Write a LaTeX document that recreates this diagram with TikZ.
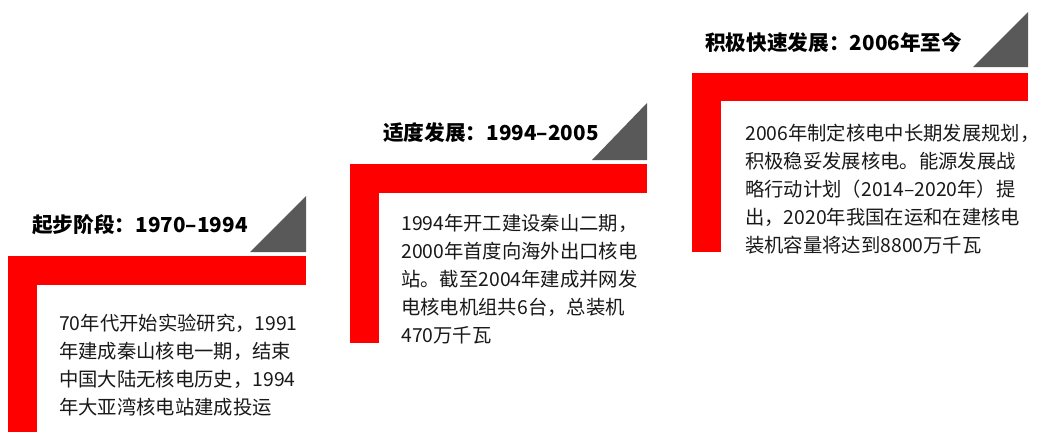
\documentclass[tikz,border=0pt]{standalone}
\usepackage{fontspec}
\newfontfamily\cjk{Noto Sans CJK SC}
\begin{document}
\begin{tikzpicture}[x=0.75pt,y=-0.75pt,
  redbar/.style={fill=red,draw=none},
  tri/.style={fill=black!65,draw=none},
  ttl/.style={anchor=west,inner sep=0pt,font=\cjk\bfseries\fontsize{15.5}{19}\selectfont,text=black},
  body/.style={anchor=north west,inner sep=0pt,align=left,font=\cjk\fontsize{14.5}{21}\selectfont,text=black!90}]
\useasboundingbox[fill=white] (0,0) rectangle (1043,432);
% panel 1
\fill[redbar] (8,256) rectangle (306,285);
\fill[redbar] (8,256) rectangle (37,432);
\fill[tri] (250,252) -- (306,252) -- (306,196) -- cycle;
\node[ttl] (t1) at (32,225) {起步阶段：1970–1994};
\node[body] (b1) at (59,314) {70年代开始实验研究，1991\\年建成秦山核电一期，结束\\中国大陆无核电历史，1994\\年大亚湾核电站建成投运};
% panel 2
\fill[redbar] (350,164) rectangle (647,193);
\fill[redbar] (350,164) rectangle (379,343);
\fill[tri] (592,160) -- (647,160) -- (647,103) -- cycle;
\node[ttl] (t2) at (383,133) {适度发展：1994–2005};
\node[body] (b2) at (401,214) {1994年开工建设秦山二期，\\2000年首度向海外出口核电\\站。截至2004年建成并网发\\电核电机组共6台，总装机\\470万千瓦};
% panel 3
\fill[redbar] (692,73) rectangle (1028,101);
\fill[redbar] (692,73) rectangle (721,252);
\fill[tri] (973,67) -- (1028,67) -- (1028,12) -- cycle;
\node[ttl] (t3) at (705,43) {积极快速发展：2006年至今};
\node[body] (b3) at (745,124) {2006年制定核电中长期发展规划，\\积极稳妥发展核电。能源发展战\\略行动计划（2014–2020年）提\\出，2020年我国在运和在建核电\\装机容量将达到8800万千瓦};
\end{tikzpicture}
\end{document}
